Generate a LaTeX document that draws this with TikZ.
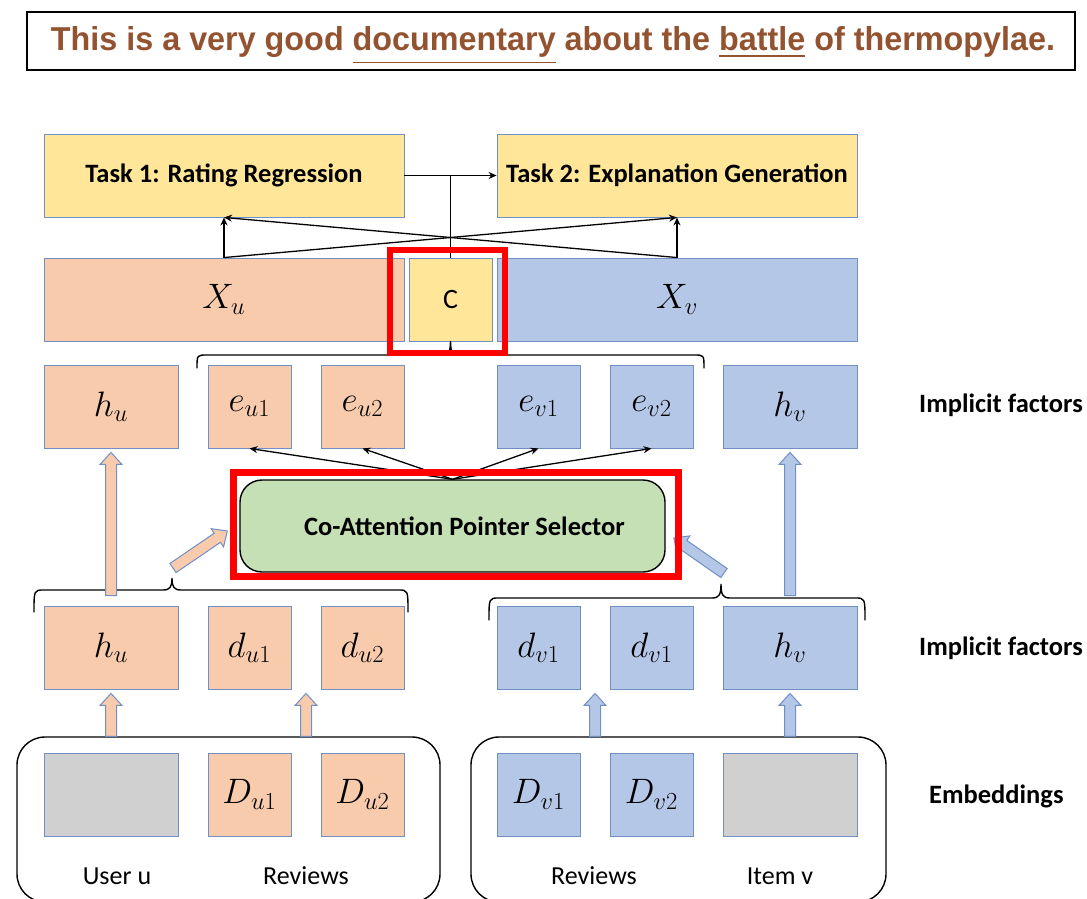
\documentclass[tikz,border=0pt]{standalone}
\usepackage{fontspec}
\setmainfont{Carlito}
\newfontfamily\sentencefont{Liberation Sans}
\usetikzlibrary{arrows.meta,calc}

\definecolor{peach}{HTML}{F8CBAD}
\definecolor{skyfill}{HTML}{B4C7E7}
\definecolor{sand}{HTML}{FFE699}
\definecolor{sage}{HTML}{C5E0B4}
\definecolor{ash}{HTML}{D0D0D0}
\definecolor{edge}{HTML}{6F8FC5}
\definecolor{rust}{HTML}{935330}
\definecolor{alert}{HTML}{FF0000}

% enlarged math symbol for the factor boxes
\newcommand{\sym}[1]{\scalebox{1.42}{$#1$}}

% hollow block arrow pointing along +x, length given as argument
\tikzset{
  pics/fatarrow/.style={code={%
    \pgfmathsetmacro\falen{#1}%
    \path[pic actions] (0,-5.5) -- (\falen-12,-5.5) -- (\falen-12,-11) -- (\falen,0)
      -- (\falen-12,11) -- (\falen-12,5.5) -- (0,5.5) -- cycle;
  }},
}

% block arrow from one named point to another
\newcommand{\fatlink}[3]{%
  \pgfpointdiff{\pgfpointanchor{#2}{center}}{\pgfpointanchor{#3}{center}}%
  \pgfgetlastxy{\fadx}{\fady}%
  \pgfmathsetmacro{\faang}{atan2(\fady,\fadx)}%
  \pgfmathsetmacro{\falength}{veclen(\fadx,\fady)}%
  \pic[#1,rotate=\faang] at (#2) {fatarrow=\falength};%
}

% horizontal curly brace: x1, x2, tip x, end y, line y, tip y
\newcommand{\hbrace}[6]{%
  \draw[bracestyle] (#1,#4) .. controls (#1,#5) .. (#1+10,#5) -- (#3-9,#5)
    .. controls (#3-2,#5) and (#3,#5-3) .. (#3,#6)
    .. controls (#3,#5-3) and (#3+2,#5) .. (#3+9,#5) -- (#2-10,#5)
    .. controls (#2,#5) .. (#2,#4);%
}

\begin{document}
\begin{tikzpicture}[x=1pt,y=-1pt,
  box/.style={draw=edge, line width=0.9pt, inner sep=0pt, minimum height=83pt,
    font=\fontsize{24}{28}\selectfont},
  widebox/.style={box, minimum width=134pt},
  sqbox/.style={box, minimum width=83pt},
  taskbox/.style={box, fill=sand, minimum width=360pt,
    font=\fontsize{26.5}{30}\selectfont\bfseries},
  rowlabel/.style={font=\fontsize{26.5}{30}\selectfont\bfseries, anchor=west, inner sep=0pt},
  undertext/.style={font=\fontsize{26}{30}\selectfont, anchor=base, inner sep=0pt},
  arr/.style={-{Stealth[length=8pt,width=7pt]}, line width=1.3pt},
  plainline/.style={line width=1.3pt},
  bracestyle/.style={line width=1.4pt, line cap=round},
  container/.style={draw=black, line width=1.4pt, rounded corners=28pt,
    minimum height=165pt, inner sep=0pt},
  hilite/.style={draw=alert, line width=6.5pt},
  peacharrow/.style={fill=peach, draw=edge, line width=1pt},
  bluearrow/.style={fill=skyfill, draw=edge, line width=1pt}
]
\useasboundingbox (0,0) rectangle (1087,899);
\clip (0,0) rectangle (1087,899);

% example sentence
\node[draw=black, line width=1.5pt, minimum width=1048pt, minimum height=58pt, inner sep=0pt]
  (frame) at (551,41) {};
\node[text=rust, inner sep=0pt, anchor=base] (sent) at (553,51)
  {\resizebox{1004pt}{24pt}{\sentencefont\bfseries This is a very good \underline{documentary} about the \underline{battle} of thermopylae.}};

% embedding containers
\node[container, minimum width=423pt] (contL) at (228.5,819.5) {};
\node[container, minimum width=415pt] (contR) at (678.5,819.5) {};

% tasks and joint representation
\node[taskbox] (t1) at (224,175.5) {Task 1: Rating Regression};
\node[taskbox] (t2) at (677,175.5) {Task 2: Explanation Generation};
\node[box, fill=peach, minimum width=360pt] (xu) at (224,299.5) {\sym{X_u}};
\node[sqbox, fill=sand, font=\fontsize{28}{32}\selectfont] (cc) at (450.5,299.5) {C};
\node[box, fill=skyfill, minimum width=360pt] (xv) at (677,299.5) {\sym{X_v}};

% upper implicit factors
\node[widebox, fill=peach]  (hu1) at (111,406.5)   {\sym{h_u}};
\node[sqbox, fill=peach]    (eu1) at (249.5,406.5) {\sym{e_{u1}}};
\node[sqbox, fill=peach]    (eu2) at (362.5,406.5) {\sym{e_{u2}}};
\node[sqbox, fill=skyfill]  (ev1) at (538.5,406.5) {\sym{e_{v1}}};
\node[sqbox, fill=skyfill]  (ev2) at (651.5,406.5) {\sym{e_{v2}}};
\node[widebox, fill=skyfill](hv1) at (790,406.5)   {\sym{h_v}};

% lower implicit factors
\node[widebox, fill=peach]  (hu2) at (111,647.5)   {\sym{h_u}};
\node[sqbox, fill=peach]    (du1) at (249.5,647.5) {\sym{d_{u1}}};
\node[sqbox, fill=peach]    (du2) at (362.5,647.5) {\sym{d_{u2}}};
\node[sqbox, fill=skyfill]  (dv1) at (538.5,647.5) {\sym{d_{v1}}};
\node[sqbox, fill=skyfill]  (dv2) at (651.5,647.5) {\sym{d_{v1}}};
\node[widebox, fill=skyfill](hv2) at (790,647.5)   {\sym{h_v}};

% embeddings
\node[widebox, fill=ash]    (ug)  at (111,794.5)   {};
\node[sqbox, fill=peach]    (Du1) at (249.5,794.5) {\sym{D_{u1}}};
\node[sqbox, fill=peach]    (Du2) at (362.5,794.5) {\sym{D_{u2}}};
\node[sqbox, fill=skyfill]  (Dv1) at (538.5,794.5) {\sym{D_{v1}}};
\node[sqbox, fill=skyfill]  (Dv2) at (651.5,794.5) {\sym{D_{v2}}};
\node[widebox, fill=ash]    (ig)  at (790,794.5)   {};

\node[undertext] (lu) at (117,884) {User u};
\node[undertext] (lr1) at (306,884) {Reviews};
\node[undertext] (lr2) at (594,884) {Reviews};
\node[undertext] (li) at (780,884) {Item v};

\node[rowlabel] (if1) at (919,405) {Implicit factors};
\node[rowlabel] (if2) at (919,648) {Implicit factors};
\node[rowlabel] (emb) at (929,796) {Embeddings};

% co-attention selector
\node[draw=black, fill=sage, line width=1.4pt, rounded corners=22pt,
  minimum width=425pt, minimum height=92pt, inner sep=0pt,
  font=\fontsize{26.5}{30}\selectfont\bfseries] (co) at (452.5,526)
  {\hspace*{24pt}Co-Attention Pointer Selector};

% braces
\hbrace{197}{704}{450.5}{368}{355}{341}
\hbrace{34}{408}{172}{612}{590}{578}
\hbrace{489}{865}{721}{620}{598}{584}
\coordinate (ltip) at (172,578);
\coordinate (rtip) at (721,584);

% block arrow end points
\coordinate (p1s) at (ug.north |- contL.north);
\coordinate (p1e) at ($(hu2.south)+(0,4)$);
\coordinate (mu) at ($(Du1.north)!0.5!(Du2.north)$);
\coordinate (p2s) at (mu |- contL.north);
\coordinate (p2e) at (mu |- p1e);
\coordinate (mv) at ($(Dv1.north)!0.5!(Dv2.north)$);
\coordinate (p3s) at (mv |- contR.north);
\coordinate (p3e) at (mv |- p1e);
\coordinate (p4s) at (ig.north |- contR.north);
\coordinate (p4e) at ($(hv2.south)+(0,4)$);
\coordinate (p5s) at ($(hu2.north)+(0,-10)$);
\coordinate (p5e) at ($(hu1.south)+(0,4)$);
\coordinate (p6s) at ($(hv2.north)+(0,-10)$);
\coordinate (p6e) at ($(hv1.south)+(0,4)$);
\coordinate (p7s) at ($(ltip)+(1,-10)$);
\coordinate (p7e) at ($(co.west)+(-12,5)$);
\coordinate (p8s) at ($(rtip)+(3,-11)$);
\coordinate (p8e) at ($(co.east)+(8,12)$);

\fatlink{peacharrow}{p1s}{p1e}
\fatlink{peacharrow}{p2s}{p2e}
\fatlink{bluearrow}{p3s}{p3e}
\fatlink{bluearrow}{p4s}{p4e}
\fatlink{peacharrow}{p5s}{p5e}
\fatlink{bluearrow}{p6s}{p6e}
\fatlink{peacharrow}{p7s}{p7e}
\fatlink{bluearrow}{p8s}{p8e}

% selector outputs
\foreach \t in {eu1,eu2,ev1,ev2} \draw[arr] (co.north) -- (\t.south);

% task connections
\draw[arr] (xu.north) -- (t1.south);
\draw[arr] (xu.north) -- (t2.south);
\draw[arr] (xv.north) -- (t2.south);
\draw[arr] (xv.north) -- (t1.south);
\draw[arr] (t1.east) -- (t2.west);
\draw[plainline] (cc.north) -- (cc.north |- t1.east);

% highlight frames
\draw[hilite] (390,250) rectangle (505,353);
\draw[hilite] (233.5,472.5) rectangle (678.5,576.5);
\end{tikzpicture}
\end{document}
